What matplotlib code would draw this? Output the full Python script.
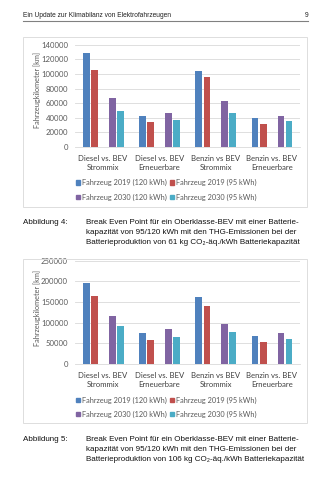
import matplotlib
matplotlib.use("Agg")
import matplotlib.pyplot as plt
from matplotlib.patches import Patch, Rectangle
from matplotlib.lines import Line2D
import numpy as np

categories = ["Diesel vs. BEV\nStrommix", "Diesel vs. BEV\nErneuerbare",
              "Benzin vs BEV\nStrommix", "Benzin vs. BEV\nErneuerbare"]
series_names = ["Fahrzeug 2019 (120 kWh)", "Fahrzeug 2019 (95 kWh)",
                "Fahrzeug 2030 (120 kWh)", "Fahrzeug 2030 (95 kWh)"]

# Abbildung 4 (61 kg CO2-äq./kWh)
fig4_2019_120 = [128000, 43000, 104000, 40000]
fig4_2019_95 = [105000, 34000, 96000, 32000]
fig4_2030_120 = [67000, 46000, 63000, 43000]
fig4_2030_95 = [49000, 37000, 46000, 35000]
fig4_yticks = [0, 20000, 40000, 60000, 80000, 100000, 120000, 140000]

# Abbildung 5 (106 kg CO2-äq./kWh)
fig5_2019_120 = [197000, 74000, 163000, 68000]
fig5_2019_95 = [165000, 59000, 141000, 54000]
fig5_2030_120 = [115000, 84000, 97000, 76000]
fig5_2030_95 = [91000, 66000, 77000, 61000]
fig5_yticks = [0, 50000, 100000, 150000, 200000, 250000]

header = "Ein Update zur Klimabilanz von Elektrofahrzeugen"
page_no = "9"
ylabel = "Fahrzeugkilometer [km]"
cap4_label = "Abbildung 4:"
cap4_lines = ["Break Even Point für ein Oberklasse-BEV mit einer Batterie-",
              "kapazität von 95/120 kWh mit den THG-Emissionen bei der",
              "Batterieproduktion von 61 kg CO₂-äq./kWh Batteriekapazität"]
cap5_label = "Abbildung 5:"
cap5_lines = ["Break Even Point für ein Oberklasse-BEV mit einer Batterie-",
              "kapazität von 95/120 kWh mit den THG-Emissionen bei der",
              "Batterieproduktion von 106 kg CO₂-äq./kWh Batteriekapazität"]

colors = ["#4F81BD", "#C0504D", "#8064A2", "#4BACC6"]
offsets = [-0.30, -0.155, 0.16, 0.305]
bar_w = 0.12

W, H = 331, 480
fig = plt.figure(figsize=(W / 100, H / 100), dpi=100)
fig.patch.set_facecolor("white")

def fx(x):
    return x / W

def fy(y):
    return 1 - y / H

sans = ["Liberation Sans", "DejaVu Sans"]
chartfont = ["Lato", "DejaVu Sans"]

# header
fig.text(fx(23), fy(15.5), header, fontsize=4.75, family=sans, va="center", ha="left", color="#222222")
fig.text(fx(308), fy(15.5), page_no, fontsize=4.75, family=sans, va="center", ha="right", color="#222222")
fig.add_artist(Line2D([fx(23), fx(308)], [fy(20.7), fy(20.7)], color="#808080", lw=0.8))


def draw_chart(frame_top, frame_bot, ax_top, ax_bot, data, yticks, ymax, leg1_y, leg2_y, ylab_y):
    fig.add_artist(Rectangle((fx(23), fy(frame_bot)), fx(307) - fx(23), fy(frame_top) - fy(frame_bot),
                             transform=fig.transFigure, fill=False, edgecolor="#DDDDDD", lw=0.7))
    ax = fig.add_axes([fx(75), fy(ax_bot), fx(300) - fx(75), fy(ax_top) - fy(ax_bot)])
    x = np.arange(len(categories))
    for vals, c, off in zip(data, colors, offsets):
        ax.bar(x + off, vals, width=bar_w, color=c, zorder=3)
    ax.set_xlim(-0.5, len(categories) - 0.5)
    ax.set_ylim(0, ymax)
    ax.set_yticks(yticks)
    ax.set_yticklabels([str(v) for v in yticks], fontsize=5.6, family=chartfont, color="#595959")
    ax.set_xticks(x)
    ax.set_xticklabels(categories, fontsize=5.6, family=chartfont, color="#404040", linespacing=1.3)
    ax.tick_params(length=0, axis="both")
    ax.tick_params(axis="x", pad=6)
    ax.tick_params(axis="y", pad=5)
    ax.grid(axis="y", color="#D9D9D9", lw=0.6, zorder=0)
    for s in ["top", "right", "left"]:
        ax.spines[s].set_visible(False)
    ax.spines["bottom"].set_color("#D9D9D9")
    ax.spines["bottom"].set_linewidth(0.6)
    ax.set_facecolor("none")
    fig.text(fx(37), fy(ylab_y), ylabel, rotation=90, fontsize=5.3, family=chartfont,
             color="#595959", ha="center", va="center")
    # legend rows
    for idxs, yy in [([0, 1], leg1_y), ([2, 3], leg2_y)]:
        handles = [Patch(color=colors[i]) for i in idxs]
        labels = [series_names[i] for i in idxs]
        lg = fig.legend(handles, labels, loc="center left", bbox_to_anchor=(fx(75.5), fy(yy)),
                        ncol=2, frameon=False, prop={"family": chartfont, "size": 5.3},
                        handlelength=0.6, handleheight=0.6, handletextpad=0.25, columnspacing=0.4,
                        borderpad=0, borderaxespad=0)
        for t in lg.get_texts():
            t.set_color("#595959")
    return ax


draw_chart(36.5, 206.5, 44.7, 147, [fig4_2019_120, fig4_2019_95, fig4_2030_120, fig4_2030_95],
           fig4_yticks, 140000, 182.5, 197, 90)

def caption(label, lines, y0):
    fig.text(fx(23), fy(y0), label, fontsize=5.75, family=sans, va="center", ha="left", color="#111111")
    for i, ln in enumerate(lines):
        fig.text(fx(86), fy(y0 + i * 9.9), ln, fontsize=5.75, family=sans, va="center", ha="left",
                 color="#111111")

caption(cap4_label, cap4_lines, 222.5)

draw_chart(258.5, 423, 260.7, 364, [fig5_2019_120, fig5_2019_95, fig5_2030_120, fig5_2030_95],
           fig5_yticks, 250000, 400, 414, 308)

caption(cap5_label, cap5_lines, 439.5)

fig.savefig("out.png", dpi=100, facecolor="white")
